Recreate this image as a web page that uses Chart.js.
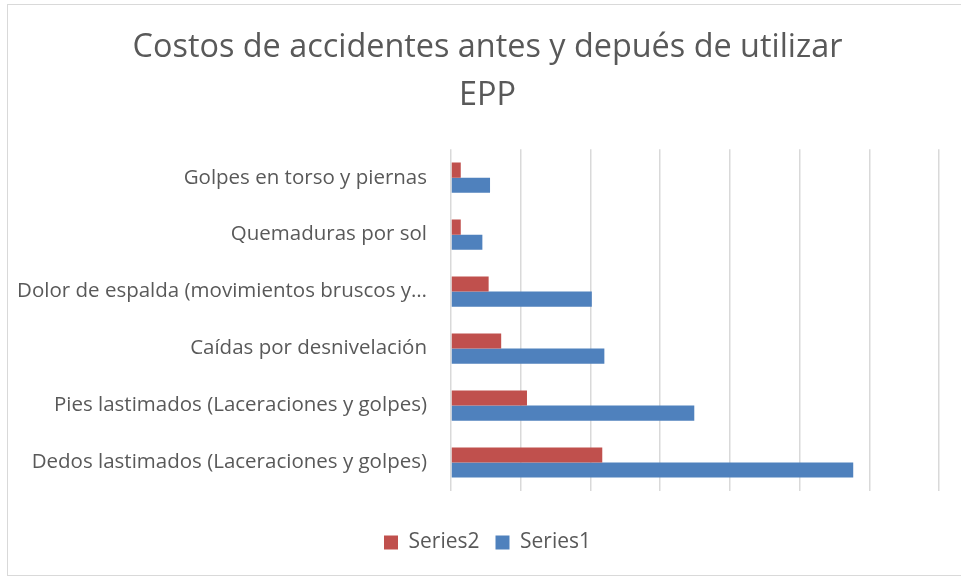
<!DOCTYPE html>
<html>
<head>
<meta charset="utf-8">
<script src="https://cdn.jsdelivr.net/npm/chart.js@4/dist/chart.umd.min.js"></script>
<style>
  html, body { margin: 0; padding: 0; background: #fff; }
  #wrap { position: relative; width: 961px; height: 579px; }
  #frame { position: absolute; left: 7px; top: 4px; width: 960px; height: 572px; border: 1px solid #d9d9d9; box-sizing: border-box; }
  #chart { position: absolute; left: 0; top: 0; }
</style>
</head>
<body>
<div id="wrap">
  <div id="frame"></div>
  <canvas id="chart" width="961" height="579"></canvas>
</div>
<script>
  // categorias (de arriba hacia abajo)
  const categories = [
    "Golpes en torso y piernas",
    "Quemaduras por sol",
    "Dolor de espalda (movimientos bruscos y…",
    "Caídas por desnivelación",
    "Pies lastimados (Laceraciones y golpes)",
    "Dedos lastimados (Laceraciones y golpes)"
  ];
  const series2 = [0.14, 0.14, 0.54, 0.72, 1.09, 2.17];
  const series1 = [0.56, 0.45, 2.02, 2.20, 3.49, 5.77];
  // ultima linea de la cuadricula en 7; el area sigue hasta el borde derecho
  const axisMax = 7.316;

  const textColor = '#595959';
  const font = "'Open Sans', 'DejaVu Sans', sans-serif";

  new Chart(document.getElementById('chart'), {
    type: 'bar',
    data: {
      labels: categories,
      datasets: [
        { label: 'Series2', data: series2, backgroundColor: '#c0504d', borderWidth: 0 },
        { label: 'Series1', data: series1, backgroundColor: '#4f81bd', borderWidth: 0 }
      ]
    },
    options: {
      indexAxis: 'y',
      responsive: false,
      animation: false,
      devicePixelRatio: 1,
      categoryPercentage: 0.53,
      barPercentage: 1.0,
      layout: { padding: { left: 14, right: 0, top: 23, bottom: 16 } },
      plugins: {
        title: {
          display: true,
          text: ['Costos de accidentes antes y depués de utilizar', 'EPP'],
          color: textColor,
          font: { family: font, size: 32.4, weight: 'normal', lineHeight: 1.5 },
          padding: { top: 0, bottom: 29 }
        },
        legend: {
          position: 'bottom',
          labels: {
            color: textColor,
            font: { family: font, size: 21 },
            boxWidth: 14,
            boxHeight: 14,
            padding: 16
          }
        },
        tooltip: { enabled: false }
      },
      scales: {
        x: {
          min: 0,
          max: axisMax,
          ticks: { display: false, stepSize: 1, includeBounds: false },
          grid: { color: '#d9d9d9', lineWidth: 1.5, drawTicks: false },
          border: { display: false },
          afterFit: function (scale) { scale.height = 25; }
        },
        y: {
          ticks: {
            color: textColor,
            font: { family: font, size: 20.5 },
            padding: 24
          },
          grid: { display: false, drawTicks: false },
          border: { display: false },
          afterFit: function (scale) { scale.width = 437; }
        }
      }
    }
  });
</script>
</body>
</html>
